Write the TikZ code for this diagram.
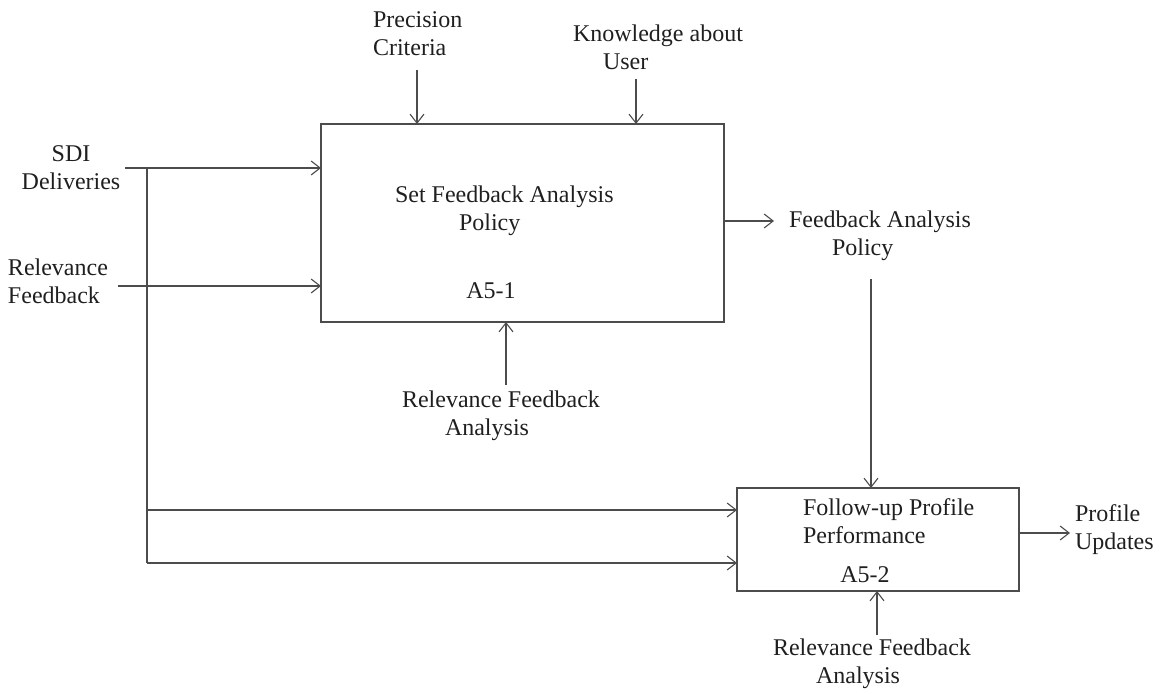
\documentclass[tikz,border=0pt]{standalone}
\usepackage{fontspec}
\setmainfont{Liberation Serif}
\usetikzlibrary{arrows.meta}
\begin{document}
\begin{tikzpicture}[x=0.5pt,y=-0.5pt,
  lbl/.style={inner sep=0pt,outer sep=0pt,text=black!88,font=\fontsize{12}{14}\selectfont},
  proc/.style={draw=black!70,line width=0.6pt,inner sep=0pt,outer sep=0pt},
  arr/.style={draw=black!70,line width=0.55pt,-{Straight Barb[length=4.5pt,width=7pt]}},
  ln/.style={draw=black!70,line width=0.55pt}]
\useasboundingbox (0,0) rectangle (1170,694);

% process boxes
\node[proc,minimum width=201.5pt,minimum height=99pt] (box1) at (522.5,223) {};
\node[proc,minimum width=141pt,minimum height=51.5pt] (box2) at (878,539.5) {};

% texts inside boxes
\node[lbl,align=left,anchor=west] (t1) at (395,211) {Set Feedback Analysis\\\hspace*{32pt}Policy};
\node[lbl] (a51) at (491,291) {A5-1};
\node[lbl,align=left,anchor=west] (t2) at (803,521.5) {Follow-up Profile\\Performance};
\node[lbl] (a52) at (865,575) {A5-2};

% outside labels
\node[lbl,align=center] (sdi) at (71,168) {SDI\\Deliveries};
\node[lbl,align=left,anchor=west] (rf) at (8,281.5) {Relevance\\Feedback};
\node[lbl,align=left,anchor=west] (prec) at (373,34) {Precision\\Criteria};
\node[lbl,align=left,anchor=west] (know) at (573,47.5) {Knowledge about\\\hspace*{15pt}User};
\node[lbl,align=left,anchor=west] (rfa1) at (402,415.5) {Relevance Feedback\\\hspace*{21.5pt}Analysis};
\node[lbl,align=left,anchor=west] (fap) at (789,235.5) {Feedback Analysis\\\hspace*{21.5pt}Policy};
\node[lbl,align=left,anchor=west] (rfa2) at (773,663.5) {Relevance Feedback\\\hspace*{21.5pt}Analysis};
\node[lbl,align=left,anchor=west] (pu) at (1075,530) {Profile\\Updates};

% connector end points
\coordinate (sdiS) at (125,168);
\coordinate (rfS) at (118,286);
\coordinate (j1) at (147,168);
\coordinate (j3) at (147,510);
\coordinate (j2) at (147,563);
\coordinate (precS) at (417,70);
\coordinate (knowS) at (636,79);
\coordinate (rfa1S) at (506,385);
\coordinate (fapE) at (774,221);
\coordinate (fapS) at (871,279);
\coordinate (rfa2S) at (877,635);
\coordinate (puE) at (1070,533);

% connectors
\draw[arr] (sdiS) -- (sdiS -| box1.west);
\draw[arr] (rfS) -- (rfS -| box1.west);
\draw[ln] (j1) -- (j2);
\draw[arr] (j3) -- (j3 -| box2.west);
\draw[arr] (j2) -- (j2 -| box2.west);
\draw[arr] (precS) -- (precS |- box1.north);
\draw[arr] (knowS) -- (knowS |- box1.north);
\draw[arr] (rfa1S) -- (rfa1S |- box1.south);
\draw[arr] (fapE -| box1.east) -- (fapE);
\draw[arr] (fapS) -- (fapS |- box2.north);
\draw[arr] (rfa2S) -- (rfa2S |- box2.south);
\draw[arr] (puE -| box2.east) -- (puE);
\end{tikzpicture}
\end{document}
